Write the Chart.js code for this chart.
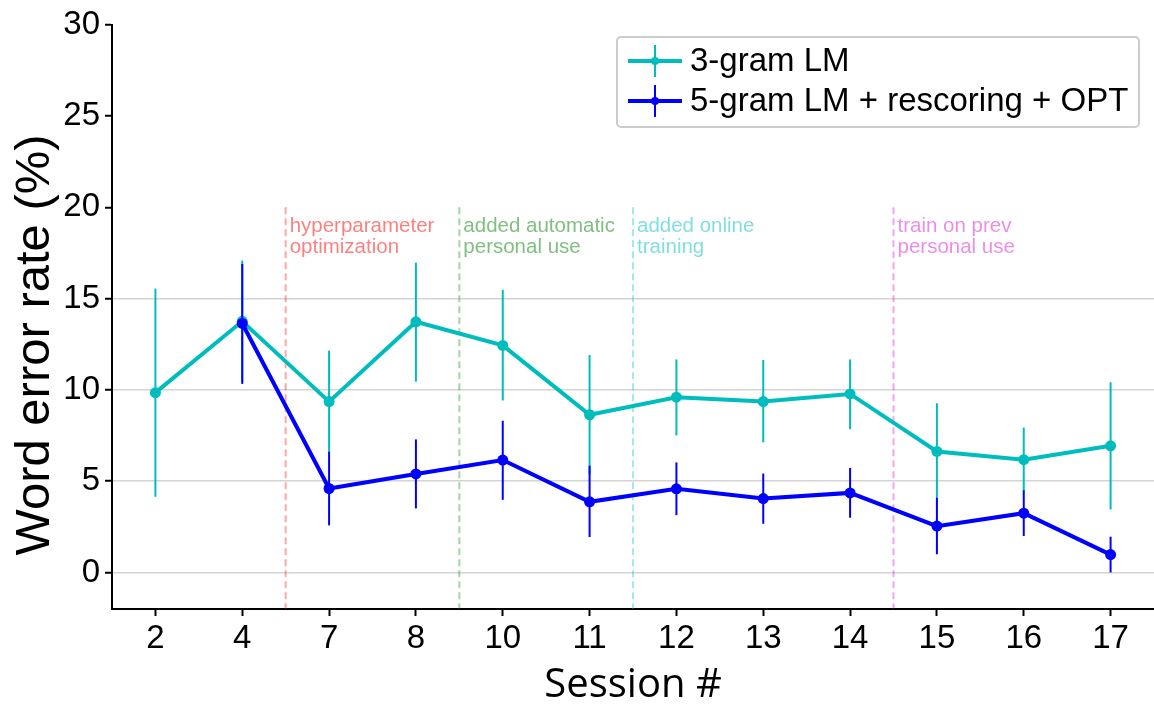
<!DOCTYPE html>
<html>
<head>
<meta charset="utf-8">
<script src="https://cdn.jsdelivr.net/npm/chart.js@4/dist/chart.umd.min.js"></script>
<style>
  html, body { margin: 0; padding: 0; background: #fff; }
  canvas { display: block; }
</style>
</head>
<body>
<canvas id="chart" width="1154" height="706"></canvas>
<script>
const sessions = ['2', '4', '7', '8', '10', '11', '12', '13', '14', '15', '16', '17'];

const trigramWer  = [9.85, 13.76, 9.36, 13.73, 12.44, 8.64, 9.6, 9.36, 9.78, 6.63, 6.18, 6.94];
const trigramLow  = [4.15, 10.43, 6.63, 10.45, 9.42, 5.37, 7.51, 7.13, 7.85, 3.99, 4.42, 3.45];
const trigramHigh = [15.55, 17.09, 12.15, 16.97, 15.49, 11.91, 11.67, 11.64, 11.67, 9.27, 7.94, 10.42];

const fivegramWer  = [null, 13.64, 4.6, 5.4, 6.16, 3.87, 4.58, 4.05, 4.36, 2.54, 3.25, 0.98];
const fivegramLow  = [null, 10.33, 2.58, 3.51, 3.98, 1.94, 3.14, 2.67, 3.0, 1.0, 2.0, 0.0];
const fivegramHigh = [null, 16.9, 6.63, 7.29, 8.31, 5.85, 6.03, 5.42, 5.73, 4.09, 4.5, 1.96];

const yTicks = [0, 5, 10, 15, 20, 25, 30];
const gridMax = 15;
const yTitle = 'Word error rate (%)';

// milestones sit between a session and the next one
const milestoneAfter = ['4', '8', '11', '14'];
const milestoneLabels = [
  ['hyperparameter', 'optimization'],
  ['added automatic', 'personal use'],
  ['added online', 'training'],
  ['train on prev', 'personal use']
];
const milestoneTop = 20;

(() => {
  const canvas = document.getElementById('chart')
  const TEAL = '#00bdbd'
  const BLUE = '#0000ff'
  const milestoneText = ['rgba(255,0,0,0.5)', 'rgba(0,128,0,0.5)', 'rgba(0,191,191,0.5)', 'rgba(210,0,210,0.45)']
  const milestoneLine = ['rgba(255,0,0,0.35)', 'rgba(0,128,0,0.35)', 'rgba(0,191,191,0.35)', 'rgba(210,0,210,0.35)']

  const errorBars = {
    id: 'errorBars',
    beforeDatasetDraw(chart, args) {
      const ds = chart.data.datasets[args.index]
      const ys = chart.scales.y
      const meta = chart.getDatasetMeta(args.index)
      const ctx = chart.ctx
      ctx.save()
      ctx.strokeStyle = ds.borderColor
      ctx.lineWidth = 2
      meta.data.forEach((pt, i) => {
        if (ds.low[i] == null) return
        ctx.beginPath()
        ctx.moveTo(pt.x, ys.getPixelForValue(ds.low[i]))
        ctx.lineTo(pt.x, ys.getPixelForValue(ds.high[i]))
        ctx.stroke()
      })
      ctx.restore()
    }
  }

  const milestones = {
    id: 'milestones',
    beforeDatasetsDraw(chart) {
      const {ctx, chartArea, scales: {x, y}} = chart
      ctx.save()
      milestoneAfter.forEach((s, k) => {
        const i = sessions.indexOf(s)
        const px = (x.getPixelForValue(i) + x.getPixelForValue(i + 1)) / 2
        const top = y.getPixelForValue(milestoneTop)
        ctx.strokeStyle = milestoneLine[k]
        ctx.lineWidth = 2
        ctx.setLineDash([7, 4])
        ctx.beginPath()
        ctx.moveTo(px, top)
        ctx.lineTo(px, chartArea.bottom)
        ctx.stroke()
        ctx.setLineDash([])
        ctx.fillStyle = milestoneText[k]
        ctx.font = '20.5px "Liberation Sans", Arial, sans-serif'
        ctx.textAlign = 'left'
        ctx.textBaseline = 'alphabetic'
        milestoneLabels[k].forEach((line, j) => {
          ctx.fillText(line, px + 4, top + 25 + j * 21)
        })
      })
      ctx.restore()
    }
  }

  // y title sits a little below the axis centre, as in the original figure
  const yTitlePlugin = {
    id: 'yTitle',
    afterDraw(chart) {
      const {ctx, chartArea} = chart
      const cy = (chartArea.top + chartArea.bottom) / 2 + 28
      ctx.save()
      ctx.translate(35, cy)
      ctx.rotate(-Math.PI / 2)
      ctx.fillStyle = '#000'
      ctx.font = '49px "Liberation Sans", Arial, sans-serif'
      ctx.textAlign = 'center'
      ctx.textBaseline = 'middle'
      ctx.fillText(yTitle, 0, 0)
      ctx.restore()
    }
  }

  const boxLegend = {
    id: 'boxLegend',
    afterDraw(chart) {
      const {ctx, chartArea} = chart
      const right = chartArea.right - 15
      const left = right - 522
      const top = 37
      const h = 90
      ctx.save()
      ctx.fillStyle = 'rgba(255,255,255,0.85)'
      ctx.strokeStyle = '#cccccc'
      ctx.lineWidth = 2
      ctx.beginPath()
      ctx.roundRect(left, top, right - left, h, 4)
      ctx.fill()
      ctx.stroke()
      chart.data.datasets.forEach((ds, i) => {
        const cy = top + 24 + i * 40
        const x0 = left + 11
        const x1 = x0 + 54
        const cx = (x0 + x1) / 2
        ctx.strokeStyle = ds.borderColor
        ctx.lineWidth = 4
        ctx.beginPath()
        ctx.moveTo(x0, cy)
        ctx.lineTo(x1, cy)
        ctx.stroke()
        ctx.lineWidth = 2
        ctx.beginPath()
        ctx.moveTo(cx, cy - 16)
        ctx.lineTo(cx, cy + 16)
        ctx.stroke()
        ctx.fillStyle = ds.borderColor
        ctx.beginPath()
        ctx.arc(cx, cy, 4, 0, Math.PI * 2)
        ctx.fill()
        ctx.fillStyle = '#000'
        ctx.font = '33px "Liberation Sans", Arial, sans-serif'
        ctx.textAlign = 'left'
        ctx.textBaseline = 'middle'
        ctx.fillText(ds.label, x1 + 8, cy + 1)
      })
      ctx.restore()
    }
  }

  const data = {
    labels: sessions,
    datasets: [{
      label: '3-gram LM',
      data: trigramWer,
      low: trigramLow,
      high: trigramHigh,
      borderColor: TEAL,
      backgroundColor: TEAL,
      borderWidth: 4,
      pointRadius: 5.5,
      pointBorderWidth: 0,
      tension: 0,
      order: 2
    }, {
      label: '5-gram LM + rescoring + OPT',
      data: fivegramWer,
      low: fivegramLow,
      high: fivegramHigh,
      borderColor: BLUE,
      backgroundColor: BLUE,
      borderWidth: 4,
      pointRadius: 5.5,
      pointBorderWidth: 0,
      tension: 0,
      order: 1
    }]
  }

  const options = {
    responsive: false,
    animation: false,
    devicePixelRatio: 1,
    layout: {
      autoPadding: false,
      padding: {top: 23, right: 0, bottom: 0, left: 0}
    },
    plugins: {
      legend: {display: false},
      tooltip: {enabled: false}
    },
    scales: {
      x: {
        type: 'category',
        offset: true,
        border: {color: '#000', width: 2},
        grid: {
          drawOnChartArea: false,
          tickColor: '#000',
          tickLength: 7,
          tickWidth: 2
        },
        ticks: {
          color: '#000',
          padding: 3,
          maxRotation: 0,
          autoSkip: false,
          font: {family: '"Liberation Sans", Arial, sans-serif', size: 33}
        },
        title: {
          display: true,
          text: 'Session #',
          color: '#000',
          padding: {top: 0, bottom: 0},
          font: {family: '"Open Sans", sans-serif', size: 40, lineHeight: 1}
        },
        afterFit(scale) {
          scale.height = 97
          scale.paddingLeft = 0
          scale.paddingRight = 0
        }
      },
      y: {
        min: -2,
        max: 30,
        border: {color: '#000', width: 2},
        grid: {
          color: (c) => (c.tick && c.tick.value <= gridMax) ? '#d4d4d4' : 'rgba(0,0,0,0)',
          lineWidth: 1.5,
          tickColor: '#000',
          tickLength: 7,
          tickWidth: 2
        },
        ticks: {
          color: '#000',
          padding: 5,
          font: {family: '"Liberation Sans", Arial, sans-serif', size: 33}
        },
        afterBuildTicks(scale) {
          scale.ticks = yTicks.map(v => ({value: v}))
        },
        afterFit(scale) { scale.width = 112 }
      }
    }
  }

  new Chart(canvas, {
    type: 'line',
    data: data,
    options: options,
    plugins: [milestones, errorBars, yTitlePlugin, boxLegend]
  })
})();
</script>
</body>
</html>
